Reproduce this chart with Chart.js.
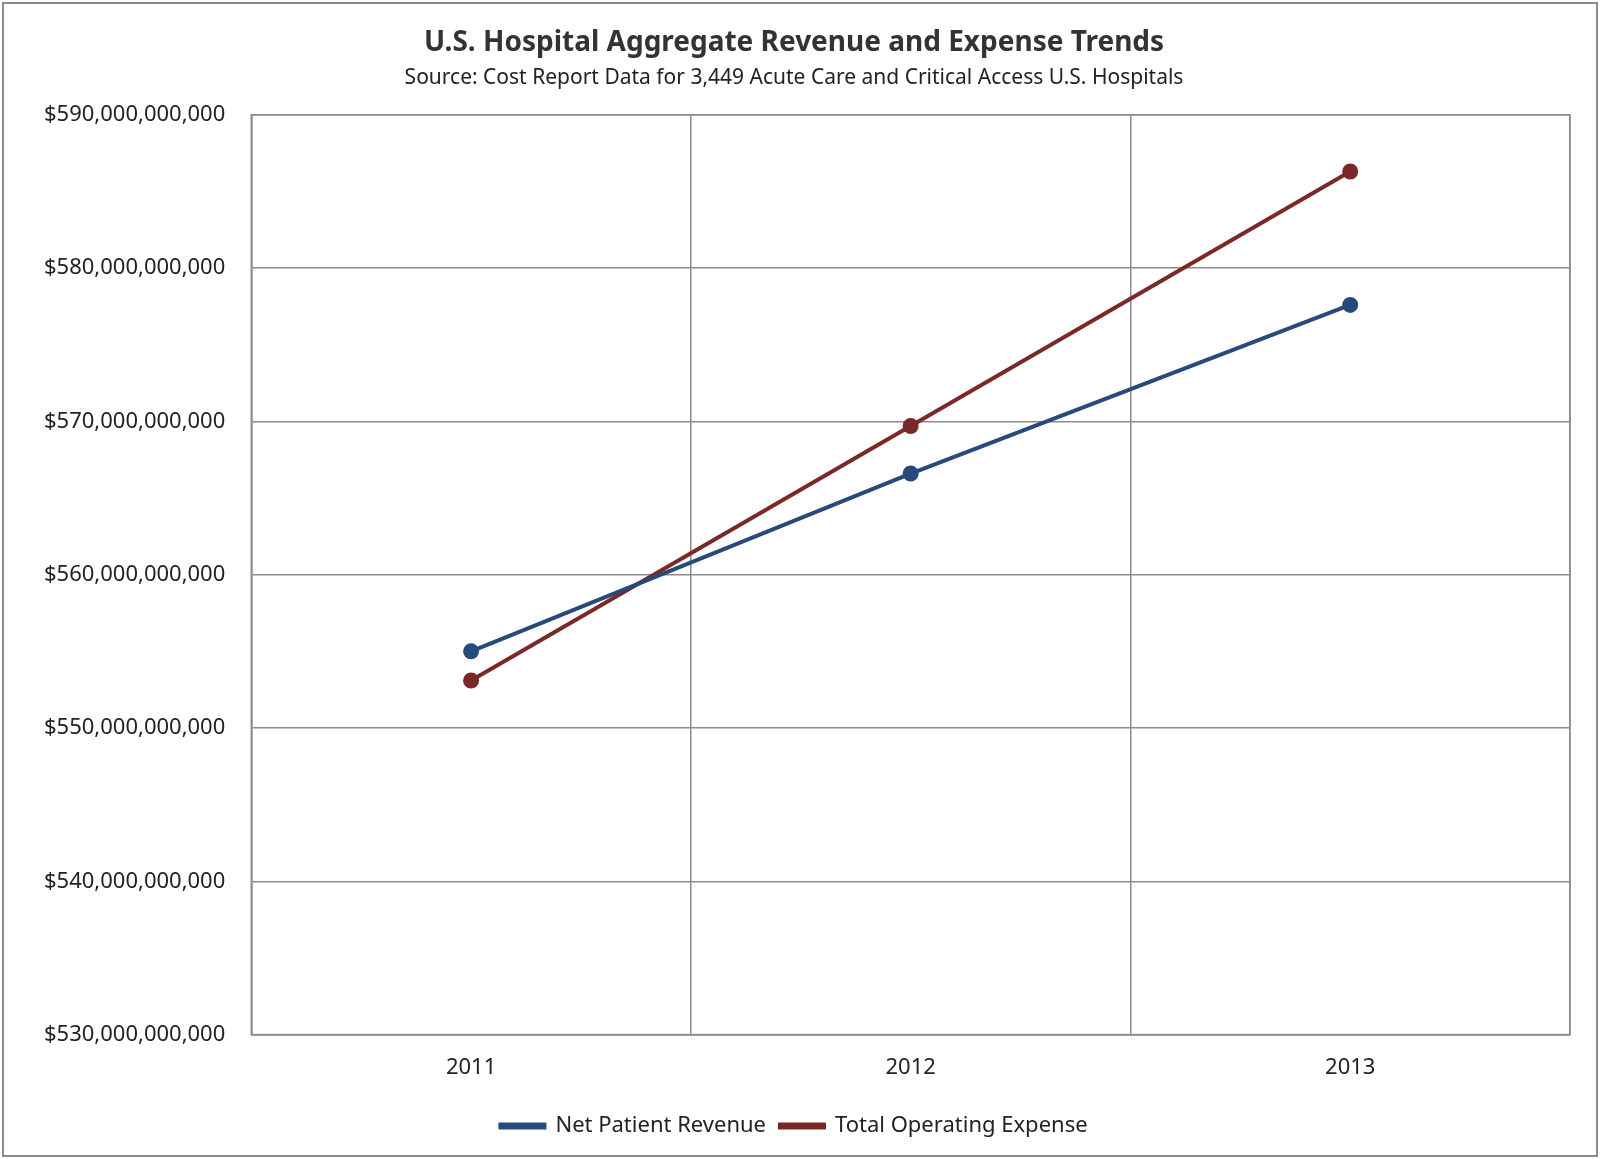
<!DOCTYPE html>
<html>
<head>
<meta charset="utf-8">
<script src="https://cdn.jsdelivr.net/npm/chart.js@4"></script>
<style>
  html, body { margin: 0; padding: 0; background: #fff; }
  #wrap { position: absolute; left: 2px; top: 2px; width: 1596px; height: 1155px; border: 2px solid #8c8c8c; box-sizing: border-box; }
</style>
</head>
<body>
<div id="wrap"><canvas id="chart" width="1592" height="1151"></canvas></div>
<script>
// Data
const years = ['2011', '2012', '2013'];
const netPatientRevenue = [555.0e9, 566.6e9, 577.6e9];
const totalOperatingExpense = [553.1e9, 569.7e9, 586.3e9];

const font = "'Noto Sans', 'Liberation Sans', sans-serif";
Chart.defaults.font.family = font;
Chart.defaults.color = '#222';

new Chart(document.getElementById('chart'), {
  type: 'line',
  data: {
    labels: years,
    datasets: [
      {
        label: 'Net Patient Revenue',
        data: netPatientRevenue,
        borderColor: '#284a7a',
        backgroundColor: '#284a7a',
        borderWidth: 4,
        pointRadius: 6,
        pointHoverRadius: 6
      },
      {
        label: 'Total Operating Expense',
        data: totalOperatingExpense,
        borderColor: '#7a2828',
        backgroundColor: '#7a2828',
        borderWidth: 4,
        pointRadius: 6,
        pointHoverRadius: 6
      }
    ]
  },
  options: {
    responsive: false,
    animation: false,
    layout: { padding: { left: 14, right: 26, top: 10, bottom: 8 } },
    plugins: {
      title: {
        display: true,
        text: 'U.S. Hospital Aggregate Revenue and Expense Trends',
        font: { size: 28, weight: 'bold' },
        color: '#333',
        padding: { top: 12, bottom: 6 }
      },
      subtitle: {
        display: true,
        text: 'Source: Cost Report Data for 3,449 Acute Care and Critical Access U.S. Hospitals',
        font: { size: 21 },
        color: '#222',
        padding: { bottom: 24 }
      },
      legend: {
        position: 'bottom',
        labels: {
          font: { size: 22 },
          boxWidth: 44,
          boxHeight: 3,
          padding: 14
        }
      },
      tooltip: { enabled: false }
    },
    scales: {
      x: {
        offset: true,
        grid: { offset: true, color: '#8c8c8c', lineWidth: 1.5, drawTicks: false },
        border: { color: '#8c8c8c', width: 1.5 },
        ticks: { font: { size: 22 }, padding: 20 }
      },
      y: {
        min: 530e9,
        max: 590e9,
        grid: { color: '#8c8c8c', lineWidth: 1.5, drawTicks: false },
        border: { color: '#8c8c8c', width: 1.5 },
        ticks: {
          stepSize: 10e9,
          font: { size: 22 },
          padding: 26,
          callback: (val) => '$' + Number(val).toLocaleString('en-US')
        }
      }
    }
  },
  plugins: [{
    id: 'plotBorder',
    afterDraw(chart) {
      const { ctx, chartArea: a } = chart;
      ctx.save();
      ctx.strokeStyle = '#8c8c8c';
      ctx.lineWidth = 1.5;
      ctx.strokeRect(a.left, a.top, a.right - a.left, a.bottom - a.top);
      ctx.restore();
    }
  }]
});
</script>
</body>
</html>
